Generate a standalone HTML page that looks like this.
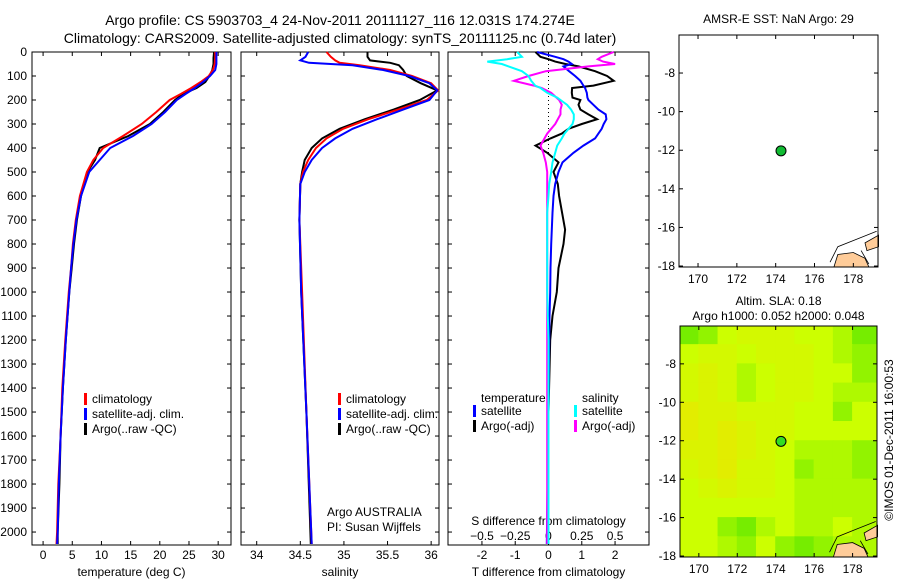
<!DOCTYPE html>
<html><head><meta charset="utf-8"><style>
html,body{margin:0;padding:0;background:#fff;}
svg{display:block;font-family:"Liberation Sans",sans-serif;}
text{font-size:12px;fill:#000;}
</style></head><body>
<svg id="chart" width="900" height="580" viewBox="0 0 900 580" xmlns="http://www.w3.org/2000/svg">
<text x="340" y="25" text-anchor="middle" style="font-size:14px">Argo profile: CS 5903703_4 24-Nov-2011 20111127_116 12.031S 174.274E</text>
<text x="340" y="43" text-anchor="middle" style="font-size:14px">Climatology: CARS2009. Satellite-adjusted climatology: synTS_20111125.nc (0.74d later)</text>
<text transform="translate(893,440) rotate(-90)" text-anchor="middle">©IMOS 01-Dec-2011 16:00:53</text>
<g id="g"></g>
</svg>
<script>
// ---- data ----
const depthT = [0,25,50,75,100,125,150,175,200,250,300,350,400,450,500,600,700,800,900,1000,1200,1400,1600,1800,2000,2050];
const tClim = [29.5,29.5,29.4,29.1,28.4,27.0,25.4,23.6,21.7,19.4,16.9,13.7,10.3,8.6,7.5,6.3,5.6,5.1,4.8,4.4,3.8,3.3,3.0,2.6,2.4,2.3];
const tSat  = [29.7,29.7,29.7,29.5,28.6,27.4,26.0,24.4,22.9,20.9,18.6,15.4,11.5,9.7,7.9,6.5,5.7,5.2,4.8,4.5,3.9,3.4,3.0,2.7,2.5,2.4];
const tArgo = [29.3,29.2,29.2,29.0,28.5,27.8,26.3,24.0,22.6,20.6,18.3,14.6,9.7,8.9,7.6,6.5,5.8,5.3,4.9,4.5,3.9,3.4,3.0,2.8,2.5,2.5];
const depthS = [0,20,35,45,55,75,100,130,160,200,240,280,320,360,400,450,500,550,700,1000,1500,2050];
const sClim = [34.80,34.85,34.9,34.95,35.18,35.53,35.78,36.0,36.08,35.95,35.62,35.28,34.99,34.8,34.68,34.59,34.53,34.5,34.49,34.52,34.57,34.63];
const sSat  = [34.59,34.56,34.5,34.6,35.1,35.45,35.75,35.98,36.07,35.98,35.68,35.38,35.1,34.9,34.75,34.63,34.55,34.5,34.49,34.51,34.57,34.63];
const sArgo = [35.27,35.27,35.3,35.53,35.63,35.68,35.72,35.88,36.07,35.87,35.57,35.24,34.95,34.75,34.63,34.55,34.52,34.5,34.49,34.51,34.57,34.62];
const depthD = [0,20,30,40,50,60,80,100,120,140,150,170,190,200,220,240,260,280,300,320,340,360,390,420,460,500,550,600,670,740,800,900,1000,1100,1200,1500,2050];
const tdSat  = [-0.34,0.2,0.45,0.6,0.7,0.45,0.62,0.8,0.96,1.05,1.1,1.15,1.17,1.2,1.35,1.5,1.72,1.74,1.66,1.6,1.5,1.4,1.05,0.75,0.42,0.3,0.2,0.15,0.12,0.1,0.08,0.06,0.05,0.03,0.02,0,-0.05];
const tdArgo = [-0.39,-0.24,0,0.2,0.51,0.9,1.4,1.76,1.96,1.35,0.71,0.7,0.72,0.96,0.9,0.96,1.2,1.46,1.0,0.6,0.4,0.06,-0.39,-0.04,0.3,0.15,0.28,0.32,0.41,0.5,0.45,0.3,0.25,0.12,0.05,0,-0.02];
const sdSat  = [-0.235,-0.2,-0.31,-0.46,-0.35,-0.3,-0.2,-0.15,-0.13,-0.1,-0.06,-0.01,0.065,0.09,0.14,0.17,0.19,0.19,0.18,0.15,0.12,0.1,0.065,0.05,0.03,0.02,0.005,0,-0.01,-0.01,-0.01,-0.01,-0.01,-0.005,0,0,0];
const sdArgo = [0.49,0.4,0.37,0.41,0.5,0.3,-0.02,-0.15,-0.26,-0.11,-0.05,0.02,0.06,0.08,0.1,0.09,0.09,0.07,0.05,0.02,-0.01,-0.03,-0.06,-0.04,-0.02,-0.01,-0.01,-0.01,-0.01,-0.01,-0.01,-0.01,-0.01,-0.01,-0.01,-0.01,-0.01];
const depthTicks = [0,100,200,300,400,500,600,700,800,900,1000,1100,1200,1300,1400,1500,1600,1700,1800,1900,2000];
const tTicks = [0,5,10,15,20,25,30];
const sTicks = [34,34.5,35,35.5,36];
const tdTicks = [-2,-1,0,1,2];
const sdTicks = [-0.5,-0.25,0,0.25,0.5];
const lonTicks = [170,172,174,176,178];
const latTicks = [-8,-10,-12,-14,-16,-18];
const argoLon = 174.274, argoLat = -12.031;
const slaGrid = [
 [0.2,0.3,0.5,0.6,0.6,0.6,0.5,0.5,0.4,0.2,0.2],
 [0.5,0.6,0.6,0.5,0.6,0.6,0.6,0.5,0.4,0.3,0.3],
 [0.6,0.7,0.6,0.4,0.5,0.6,0.6,0.5,0.5,0.3,0.3],
 [0.6,0.7,0.6,0.4,0.5,0.6,0.6,0.5,0.4,0.4,0.4],
 [0.8,0.7,0.7,0.6,0.6,0.6,0.5,0.5,0.3,0.5,0.5],
 [0.8,0.7,0.8,0.7,0.6,0.6,0.5,0.5,0.5,0.5,0.5],
 [0.7,0.7,0.8,0.7,0.6,0.5,0.4,0.4,0.4,0.3,0.3],
 [0.6,0.7,0.8,0.6,0.6,0.5,0.3,0.4,0.4,0.3,0.3],
 [0.5,0.6,0.7,0.6,0.6,0.5,0.4,0.4,0.4,0.4,0.4],
 [0.5,0.5,0.5,0.5,0.5,0.5,0.4,0.4,0.4,0.4,0.4],
 [0.5,0.5,0.3,0.2,0.4,0.5,0.4,0.4,0.5,0.4,0.4],
 [0.5,0.5,0.4,0.3,0.5,0.3,0.2,0.3,0.4,0.4,0.4]];

// ---- drawing ----
const NS="http://www.w3.org/2000/svg";
const G=document.getElementById('g');
function mk(tag,attrs,parent){const e=document.createElementNS(NS,tag);for(const k in attrs)e.setAttribute(k,attrs[k]);(parent||G).appendChild(e);return e;}
function lin(d0,d1,r0,r1){return v=>r0+(v-d0)/(d1-d0)*(r1-r0);}
const TOP=52,BOT=545;
const yD=lin(0,2054,TOP,BOT);

function frame(x0,x1,y0,y1,name){
  const r=mk('rect',{x:x0,y:y0,width:x1-x0,height:y1-y0,fill:'none',stroke:'#000','stroke-width':1});
  
  
}
function txt(x,y,s,anchor,name,size){
  const t=mk('text',{x:x,y:y,'text-anchor':anchor||'start'});
  if(size)t.style.fontSize=size+'px';
  t.textContent=s;
  
  
  return t;
}
function tick(x1,y1,x2,y2){const l=mk('line',{x1:x1,y1:y1,x2:x2,y2:y2,stroke:'#000','stroke-width':1});
  
  }
function series(xs,ds,xf,color,name,w){
  const pts=xs.map((v,i)=>xf(v).toFixed(1)+','+yD(ds[i]).toFixed(1)).join(' ');
  const p=mk('polyline',{points:pts,fill:'none',stroke:color,'stroke-width':w||2,'stroke-linejoin':'miter'});
  
  
}
function depthAxis(x0,x1,labels){
  depthTicks.forEach(d=>{const y=yD(d);tick(x0,y,x0+4,y);tick(x1,y,x1-4,y);
    if(labels)txt(x0-5,y+4,String(d),'end','depth-tick-label');});
}
function legendEntry(x,y,color,label,name){
  const r=mk('rect',{x:x,y:y-10,width:3,height:12,fill:color});
  
  
  txt(x+8,y,label,'start',name);
}
function slaColor(v){
  const c0=[60,225,0],c1=[204,255,0],c2=[240,225,0];
  let a,b,t;
  if(v<0.5){a=c0;b=c1;t=v/0.5;}else{a=c1;b=c2;t=(v-0.5)/0.5;}
  return `rgb(${Math.round(a[0]+(b[0]-a[0])*t)},${Math.round(a[1]+(b[1]-a[1])*t)},0)`;
}

// Panel 1: temperature
const P1={x0:32,x1:231};
const xT=lin(-1.9,32.2,P1.x0,P1.x1);
frame(P1.x0,P1.x1,TOP,BOT,'temperature-panel-frame');
depthAxis(P1.x0,P1.x1,true);
tTicks.forEach(v=>{const x=xT(v);tick(x,BOT,x,BOT-4);tick(x,TOP,x,TOP+4);txt(x,559,String(v),'middle','temperature-tick-label');});
txt((P1.x0+P1.x1)/2,576,'temperature (deg C)','middle','temperature-axis-title');
series(tArgo,depthT,xT,'#000','temperature-argo-line');
series(tClim,depthT,xT,'#f00','temperature-climatology-line');
series(tSat,depthT,xT,'#00f','temperature-satellite-line');
legendEntry(84,403,'#f00','climatology','legend-climatology');
legendEntry(84,418,'#00f','satellite-adj. clim.','legend-satellite');
legendEntry(84,433,'#000','Argo(..raw -QC)','legend-argo');

// Panel 2: salinity
const P2={x0:241,x1:439};
const xS=lin(33.82,36.09,P2.x0,P2.x1);
frame(P2.x0,P2.x1,TOP,BOT,'salinity-panel-frame');
depthAxis(P2.x0,P2.x1,false);
sTicks.forEach(v=>{const x=xS(v);tick(x,BOT,x,BOT-4);tick(x,TOP,x,TOP+4);txt(x,559,String(v),'middle','salinity-tick-label');});
txt((P2.x0+P2.x1)/2,576,'salinity','middle','salinity-axis-title');
series(sArgo,depthS,xS,'#000','salinity-argo-line');
series(sClim,depthS,xS,'#f00','salinity-climatology-line');
series(sSat,depthS,xS,'#00f','salinity-satellite-line');
legendEntry(338,403,'#f00','climatology','legend2-climatology');
legendEntry(338,418,'#00f','satellite-adj. clim.','legend2-satellite');
legendEntry(338,433,'#000','Argo(..raw -QC)','legend2-argo');
txt(327,516,'Argo AUSTRALIA','start','float-agency-label');
txt(327,531,'PI: Susan Wijffels','start','pi-label');

// Panel 3: differences
const P3={x0:448,x1:649};
const xTD=lin(-3.02,3.02,P3.x0,P3.x1);
const xSD=lin(-0.755,0.755,P3.x0,P3.x1);
frame(P3.x0,P3.x1,TOP,BOT,'difference-panel-frame');
depthAxis(P3.x0,P3.x1,false);
tdTicks.forEach(v=>{const x=xTD(v);tick(x,BOT,x,BOT-4);tick(x,TOP,x,TOP+4);txt(x,559,String(v),'middle','tdiff-tick-label');});
sdTicks.forEach(v=>{txt(xSD(v),540,String(v).replace('-','\u2212'),'middle','sdiff-tick-label');});
txt((P3.x0+P3.x1)/2,525,'S difference from climatology','middle','sdiff-axis-title');
txt((P3.x0+P3.x1)/2,576,'T difference from climatology','middle','tdiff-axis-title');
const zl=mk('line',{x1:xTD(0),y1:TOP,x2:xTD(0),y2:yD(430),stroke:'#000','stroke-width':1,'stroke-dasharray':'1,3'});


series(tdArgo,depthD,xTD,'#000','tdiff-argo-line');
series(tdSat,depthD,xTD,'#00f','tdiff-satellite-line');
series(sdArgo,depthD,xSD,'#f0f','sdiff-argo-line');
series(sdSat,depthD,xSD,'#0ff','sdiff-satellite-line');
txt(481,402,'temperature','start','legend3-temperature-heading');
legendEntry(473,415,'#00f','satellite','legend3-t-satellite');
legendEntry(473,430,'#000','Argo(-adj)','legend3-t-argo');
txt(582,402,'salinity','start','legend3-salinity-heading');
legendEntry(574,415,'#0ff','satellite','legend3-s-satellite');
legendEntry(574,430,'#f0f','Argo(-adj)','legend3-s-argo');

// Maps
function map(x0,x1,y0,y1,name,title1,title2,heat){
  const xL=lin(169.02,179.27,x0,x1), yL=lin(-6.03,-18.05,y0,y1);
  if(heat){
    const cid='clip-'+name;
    const cp=mk('clipPath',{id:cid});mk('rect',{x:x0,y:y0,width:x1-x0,height:y1-y0},cp);
    const hg=mk('g',{'clip-path':'url(#'+cid+')'});
    
    
    heat.forEach((row,r)=>row.forEach((v,c)=>{
      const cell=mk('rect',{x:xL(169+c)-0.5,y:yL(-6-r)-0.5,width:xL(170)-xL(169)+1,height:yL(-7)-yL(-6)+1,fill:slaColor(v)},hg);
      
      
    }));
  }
  const land=mk('path',{d:`M${xL(177.0)},${y1} L${xL(177.2)},${yL(-17.4)} L${xL(178.0)},${yL(-17.3)} L${xL(178.6)},${yL(-17.6)} L${xL(178.8)},${y1} Z M${xL(178.6)},${yL(-16.8)} L${xL(179.3)},${yL(-16.4)} L${xL(179.3)},${yL(-17.0)} L${xL(178.7)},${yL(-17.2)} Z`,fill:'#fc9',stroke:'#000','stroke-width':0.8});
  
  
  const reef=mk('path',{d:`M${xL(176.8)},${yL(-17.8)} L${xL(177.2)},${yL(-17.0)} L${xL(178.2)},${yL(-16.6)} L${xL(179.2)},${yL(-16.2)} M${xL(178.4)},${yL(-17.2)} L${xL(178.8)},${yL(-17.9)}`,fill:'none',stroke:'#000','stroke-width':0.8});
  
  
  frame(x0,x1,y0,y1,name+'-frame');
  lonTicks.forEach(v=>{const x=xL(v);tick(x,y1,x,y1-4);tick(x,y0,x,y0+4);txt(x,y1+16,String(v),'middle','lon-tick-label');});
  latTicks.forEach(v=>{const y=yL(v);tick(x0,y,x0+4,y);tick(x1,y,x1-4,y);txt(x0-4,y+4,String(v),'end','lat-tick-label');});
  const c=mk('circle',{cx:xL(argoLon),cy:yL(argoLat),r:5,fill:heat?'#33dd22':'#11bb33',stroke:'#000','stroke-width':1});
  
  
  if(title2){txt((x0+x1)/2,y0-21,title1,'middle',name+'-title');txt((x0+x1)/2,y0-6,title2,'middle',name+'-subtitle');}
  else txt((x0+x1)/2,y0-12,title1,'middle',name+'-title');
}
map(679,878,35,267,'sst-map','AMSR-E SST: NaN Argo: 29',null,null);
map(680,877,326,557,'sla-map','Altim. SLA: 0.18','Argo h1000: 0.052 h2000: 0.048',slaGrid);
</script>
</body></html>
